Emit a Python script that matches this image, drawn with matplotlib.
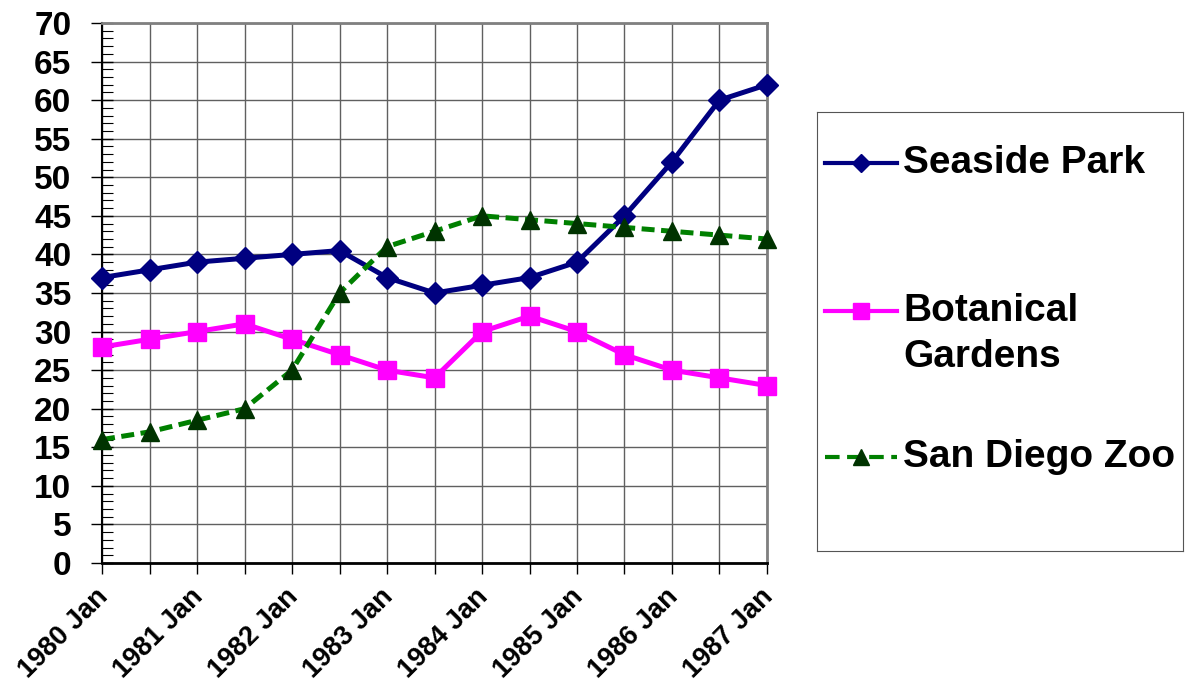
import matplotlib.pyplot as plt
from matplotlib.ticker import MultipleLocator

plt.rcParams['font.family'] = ['Liberation Sans', 'DejaVu Sans']
plt.rcParams['font.weight'] = 'bold'

# half-year points, Jan labels only
periods = ['1980 Jan', '1980 Jul', '1981 Jan', '1981 Jul', '1982 Jan', '1982 Jul',
           '1983 Jan', '1983 Jul', '1984 Jan', '1984 Jul', '1985 Jan', '1985 Jul',
           '1986 Jan', '1986 Jul', '1987 Jan']
seaside = [37, 38, 39, 39.5, 40, 40.5, 37, 35, 36, 37, 39, 45, 52, 60, 62]
botanical = [28, 29, 30, 31, 29, 27, 25, 24, 30, 32, 30, 27, 25, 24, 23]
zoo = [16, 17, 18.5, 20, 25, 35, 41, 43, 45, 44.5, 44, 43.5, 43, 42.5, 42]
names = ['Seaside Park', 'Botanical\nGardens', 'San Diego Zoo']

navy, magenta, green, dkgreen = '#000080', '#FF00FF', '#008000', '#003300'
dash = (0, (2.6, 1.3))

fig = plt.figure(figsize=(11.88, 6.86), dpi=100)
ax = fig.add_axes([0.0859, 0.1793, 0.5597, 0.7872])

x = list(range(len(periods)))
ax.plot(x, seaside, color=navy, lw=3.6, marker='D', ms=11, clip_on=False, zorder=5)
ax.plot(x, botanical, color=magenta, lw=3.6, marker='s', ms=12.5, clip_on=False, zorder=5)
ax.plot(x, zoo, color=green, lw=3.6, ls=dash, marker='^', ms=13,
        mfc=dkgreen, mec=dkgreen, clip_on=False, zorder=5)

ax.set_xlim(0, 14)
ax.set_ylim(0, 70)
ax.yaxis.set_major_locator(MultipleLocator(5))
ax.yaxis.set_minor_locator(MultipleLocator(1))
ax.set_xticks(x)
ax.set_xticklabels([p if p.endswith('Jan') else '' for p in periods],
                   rotation=45, ha='right', va='center_baseline', rotation_mode='anchor',
                   fontsize=19.5)
ax.tick_params(axis='y', which='major', labelsize=24, direction='inout', length=16,
               width=1, pad=14)
ax.tick_params(axis='y', which='minor', direction='in', length=8, width=0.8)
ax.tick_params(axis='x', direction='out', length=8, width=1, pad=12)
ax.grid(True, which='major', color='#606060', lw=1)
for s in ['top', 'right']:
    ax.spines[s].set_color('#808080')
    ax.spines[s].set_linewidth(2)
ax.spines['left'].set_linewidth(1.5)
ax.spines['bottom'].set_linewidth(2)

# legend box, entries drawn by hand so the handle sits on the first text line
lax = fig.add_axes([0.688, 0.197, 0.308, 0.64])
lax.set_xlim(0, 1)
lax.set_ylim(0, 1)
lax.set_xticks([])
lax.set_yticks([])
for s in lax.spines.values():
    s.set_linewidth(0.8)
    s.set_color('#555555')
ys = [0.884, 0.547, 0.214]
styles = [dict(color=navy, marker='D', ms=9),
          dict(color=magenta, marker='s', ms=12),
          dict(color=green, ls=(0, (3.5, 1.8)), marker='^', ms=12, mfc=dkgreen, mec=dkgreen)]
for y, name, st in zip(ys, names, styles):
    lax.plot([0.022, 0.219], [y, y], lw=3, markevery=[], **st)
    lax.plot([0.12], [y], lw=0, **{k: v for k, v in st.items() if k != 'ls'})
    lax.text(0.235, y, name.split('\n')[0], fontsize=28, va='center')
    if '\n' in name:
        lax.text(0.235, y - 0.105, name.split('\n')[1], fontsize=28, va='center')

fig.savefig('out.png', dpi=100)
